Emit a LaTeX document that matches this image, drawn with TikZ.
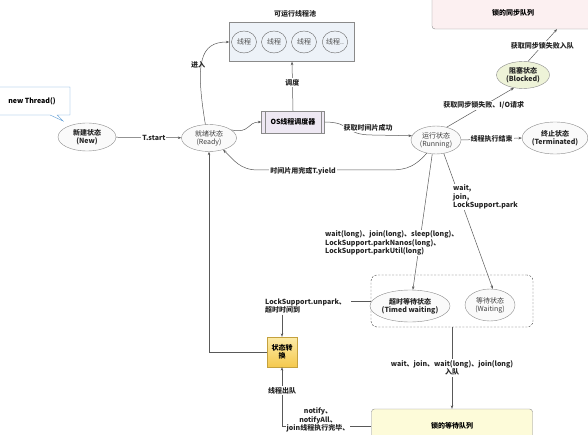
\documentclass[tikz,border=0pt]{standalone}
\usepackage{fontspec}
\setmainfont{Noto Sans CJK SC}
\usepackage{tikz}
\usetikzlibrary{shapes, arrows.meta, positioning}
\usepackage{xcolor}
\definecolor{xbian}{HTML}{8A8A8A}
\definecolor{chiblue}{HTML}{EDF2F8}
\definecolor{zise}{HTML}{EEE8F3}
\definecolor{fenhong}{HTML}{FCF0F1}
\definecolor{qianhuang}{HTML}{FDFBD9}
\definecolor{qianlv}{HTML}{EEF3D8}
\definecolor{huangshang}{HTML}{FCEBA8}
\definecolor{huangxia}{HTML}{F5C94E}
\definecolor{lanbian}{HTML}{5B9BD5}

\begin{document}
\begin{tikzpicture}[x=1pt, y=-1pt, font=\fontsize{7}{8}\selectfont,
  zt/.style={ellipse, draw=xbian, fill=gray!4, inner sep=0pt, align=center, text=black!75},
  ztc/.style={zt, font=\fontsize{7}{8}\selectfont\bfseries, text=black!85},
  lab/.style={fill=white, inner sep=1pt, align=center, font=\fontsize{7}{8.5}\selectfont\bfseries, text=black!85},
  jt/.style={-{Stealth[length=3.5pt,width=2.6pt]}, draw=black!65, line width=0.5pt},
  xian/.style={draw=black!65, line width=0.5pt}]
\useasboundingbox (0,0) rectangle (588,435);

% 左侧
\node[rectangle callout, draw=lanbian, fill=white, minimum width=76pt, minimum height=28pt,
  callout absolute pointer={(63,121)}, font=\fontsize{7}{8}\selectfont\bfseries] (newth) at (32,101) {new Thread()};
\node[ztc, minimum width=58pt, minimum height=28pt] (new) at (87,137) {新建状态\\(New)};
\node[zt, minimum width=55pt, minimum height=27pt] (ready) at (209,138) {就绪状态\\(Ready)};

% 可运行线程池
\node[draw=xbian, fill=chiblue, minimum width=125pt, minimum height=39pt] (pool) at (292,42) {};
\node[lab, fill=none] (pooltit) at (295,14) {可运行线程池};
\foreach \x/\t [count=\i] in {244/线程, 274/线程, 304/线程, 335/线程..}
  \node[ellipse, draw=black!60, fill=chiblue, inner sep=0pt, minimum width=25pt, minimum height=22pt, text=black!70] (xc\i) at (\x,42) {\t};

% OS线程调度器
\node[draw=xbian, fill=zise, minimum width=63pt, minimum height=22pt, font=\fontsize{7}{8}\selectfont\bfseries] (os) at (293,122) {OS线程调度器};
\draw[xbian] ([xshift=4pt]os.north west) -- ([xshift=4pt]os.south west);
\draw[xbian] ([xshift=-4pt]os.north east) -- ([xshift=-4pt]os.south east);

% 右侧状态
\node[zt, minimum width=50pt, minimum height=28pt] (run) at (436,140) {运行状态\\(Running)};
\node[ztc, fill=qianlv, minimum width=53pt, minimum height=27pt] (block) at (523,75) {阻塞状态\\(Blocked)};
\node[ztc, minimum width=53pt, minimum height=32pt] (term) at (555,138) {终止状态\\(Terminated)};
\node[draw=xbian, fill=fenhong, rounded corners=3pt, minimum width=162pt, minimum height=32pt, font=\fontsize{7}{8}\selectfont\bfseries] (syncq) at (513,13) {锁的同步队列};

% 等待
\node[draw=black!75, dash pattern=on 2pt off 1.5pt, rounded corners=6pt, minimum width=162pt, minimum height=52pt] (waitgrp) at (452,301) {};
\node[ztc, minimum width=66pt, minimum height=32pt] (timed) at (410,306) {超时等待状态\\(Timed waiting)};
\node[zt, minimum width=50pt, minimum height=32pt] (wait) at (490,305) {等待状态\\(Waiting)};
\node[draw=xbian, fill=qianhuang, rounded corners=3pt, minimum width=161pt, minimum height=34pt, font=\fontsize{7}{8}\selectfont\bfseries] (waitq) at (452,426) {锁的等待队列};
\node[draw=huangxia!80!black, top color=huangshang, bottom color=huangxia, minimum width=30pt, minimum height=30pt,
  inner sep=1pt, align=center, font=\fontsize{7}{8.5}\selectfont\bfseries] (conv) at (282,352) {状态转\\换};

% 连线
\draw[jt] (new) -- node[lab, pos=0.58] {T.start} (ready);
\draw[jt] (ready.105) .. controls (195,62) and (200,42) .. (pool.west);
\node[lab, fill=none, right] (jinru) at (190,65) {进入};
\draw[jt] (os.north) -- node[lab, pos=0.58] {调度} (pool.south);
\draw[jt] (ready.20) .. controls (250,134) and (247,122) .. (os.west);
\draw[jt] (os.east) .. controls (352,122) and (344,135) .. (372,135) -- (run.170);
\node[lab] (huoqu) at (368,128) {获取时间片成功};
\draw[jt] (run.235) .. controls (412,170) and (402,170) .. (385,170) -- (258,170) .. controls (240,170) and (234,160) .. (ready.-40);
\node[lab] (yongwan) at (303,171) {时间片用完或T.yield};
\draw[jt] (run.50) -- node[lab, pos=0.55] {获取同步锁失败、I/O请求} (block.235);
\draw[jt] (block.70) -- node[lab, pos=0.5] {获取同步锁失败入队} ([xshift=44pt]syncq.south);
\draw[jt] (run.east) -- node[lab] {线程执行结束} (term.west);

\draw[jt] (run.255) -- (timed.80);
\node[lab, align=left, anchor=west] (tlab) at (324,243) {wait(long)、join(long)、sleep(long)、\\LockSupport.parkNanos(long)、\\LockSupport.parkUtil(long)};
\draw[jt] (run.300) -- (wait.80);
\node[lab, align=left, anchor=west] (wlab) at (452,197) {wait,\\join,\\LockSupport.park};

\node[lab, align=left, anchor=west] (unpark) at (264,306) {LockSupport.unpark、\\超时时间到};
\draw[xian] (waitgrp.west) -- ([xshift=4pt]waitgrp.west -| unpark.east);
\draw[jt] (conv.north |- unpark.south) -- (conv.north);
\draw[jt] (conv.west) -| (ready.south);

\draw[jt] (waitgrp.south) -- node[lab, pos=0.5] {wait、join、wait(long)、join(long)\\入队} (waitq.north);
\draw[jt] (waitq.west) -- (conv.south |- waitq.west) -- node[lab, pos=0.6] {线程出队} (conv.south);
\node[lab] (notify) at (318,420) {notify、\\notifyAll、\\join线程执行完毕、};
\end{tikzpicture}
\end{document}
